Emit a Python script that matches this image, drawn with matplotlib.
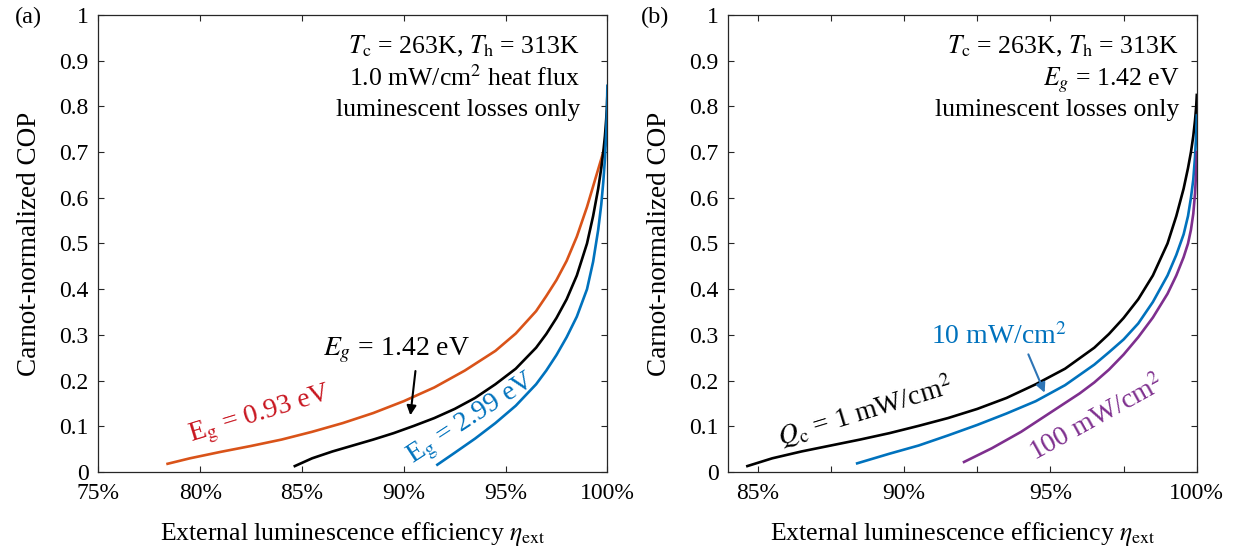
import matplotlib
matplotlib.use("Agg")
import matplotlib.pyplot as plt

plt.rcParams['font.family'] = 'serif'
plt.rcParams['font.serif'] = ['Liberation Serif']
plt.rcParams['mathtext.fontset'] = 'stix'

# ---- data (eta in %, Carnot-normalized COP) ----
# Eg = 1.42 eV, Qc = 1 mW/cm^2 (same curve in both panels)
eta_142 = [84.65, 85.5, 86.5, 87.5, 88.5, 89.5, 90.5, 91.5, 92.5, 93.5, 94.5, 95.5,
           96.5, 97.0, 97.5, 98.0, 98.5, 99.0, 99.3, 99.55, 99.7, 99.8, 99.88, 99.94, 99.98, 100.0]
cop_142 = [0.013, 0.030, 0.045, 0.058, 0.071, 0.085, 0.101, 0.118, 0.138, 0.162, 0.192, 0.226,
           0.272, 0.302, 0.337, 0.378, 0.43, 0.50, 0.56, 0.62, 0.665, 0.70, 0.735, 0.77, 0.80, 0.825]

# Eg = 0.93 eV
eta_093 = [78.4, 79.5, 81.0, 82.5, 84.0, 85.5, 87.0, 88.5, 90.0, 91.5, 93.0, 94.5,
           95.5, 96.5, 97.0, 97.5, 98.0, 98.5, 99.0, 99.4, 99.7, 99.9, 100.0]
cop_093 = [0.018, 0.030, 0.044, 0.057, 0.071, 0.088, 0.107, 0.129, 0.155, 0.185, 0.222, 0.265,
           0.303, 0.352, 0.385, 0.42, 0.462, 0.515, 0.58, 0.64, 0.685, 0.715, 0.73]

# Eg = 2.99 eV
eta_299 = [91.65, 92.5, 93.5, 94.5, 95.5, 96.5, 97.0, 97.5, 98.0, 98.5, 99.0, 99.3,
           99.55, 99.7, 99.8, 99.88, 99.94, 99.98, 100.0]
cop_299 = [0.016, 0.042, 0.073, 0.107, 0.145, 0.192, 0.222, 0.256, 0.295, 0.34, 0.40, 0.46,
           0.53, 0.585, 0.635, 0.685, 0.74, 0.79, 0.845]

# Qc = 10 mW/cm^2
eta_q10 = [88.4, 89.5, 90.5, 91.5, 92.5, 93.5, 94.5, 95.5, 96.5, 97.0, 97.5, 98.0,
           98.5, 99.0, 99.3, 99.55, 99.7, 99.8, 99.88, 99.94, 99.98, 100.0]
cop_q10 = [0.019, 0.040, 0.058, 0.080, 0.103, 0.128, 0.155, 0.19, 0.235, 0.262, 0.29, 0.325,
           0.372, 0.43, 0.475, 0.52, 0.56, 0.60, 0.64, 0.69, 0.74, 0.78]

# Qc = 100 mW/cm^2
eta_q100 = [92.05, 93.0, 94.0, 95.0, 96.0, 96.5, 97.0, 97.5, 98.0, 98.5, 99.0, 99.3,
            99.55, 99.7, 99.8, 99.88, 99.94, 99.98, 100.0]
cop_q100 = [0.022, 0.052, 0.088, 0.13, 0.172, 0.196, 0.224, 0.257, 0.295, 0.338, 0.39, 0.43,
            0.47, 0.50, 0.53, 0.565, 0.61, 0.66, 0.70]

yticks = [0, 0.1, 0.2, 0.3, 0.4, 0.5, 0.6, 0.7, 0.8, 0.9, 1]
ytick_labels = ['0', '0.1', '0.2', '0.3', '0.4', '0.5', '0.6', '0.7', '0.8', '0.9', '1']
xticks_a = [75, 80, 85, 90, 95, 100]
xtick_labels_a = ['75%', '80%', '85%', '90%', '95%', '100%']
xticks_b = [85, 87.5, 90, 92.5, 95, 97.5, 100]
xtick_labels_b = ['85%', '', '90%', '', '95%', '', '100%']

ORANGE = '#D95319'
BLUE = '#0072BD'
PURPLE = '#7E2F8E'
RED_TXT = '#C8141E'
LW = 1.9
TICK_FS = 17
XLABEL_FS = 18.5
YLABEL_FS = 19.5
INFO_FS = 18.5
CURVE_FS = 20

fig = plt.figure(figsize=(12.37, 5.52), dpi=100)
ax1 = fig.add_axes([0.0795, 0.1449, 0.4115, 0.828])
ax2 = fig.add_axes([0.5888, 0.1449, 0.3787, 0.828])


def style(ax, xlim, xt, xtl):
    ax.set_xlim(*xlim)
    ax.set_ylim(0, 1)
    ax.set_xticks(xt)
    ax.set_xticklabels(xtl)
    ax.set_yticks(yticks)
    ax.set_yticklabels(ytick_labels)
    ax.tick_params(direction='in', top=True, right=True, length=4, width=0.8,
                   labelsize=TICK_FS, colors='#262626', labelcolor='black')
    ax.tick_params(axis='x', pad=8)
    ax.tick_params(axis='y', pad=7)
    for s in ax.spines.values():
        s.set_color('#262626')
        s.set_linewidth(0.9)
    ax.set_ylabel('Carnot-normalized COP', fontsize=YLABEL_FS)
    ax.set_xlabel(r'External luminescence efficiency $\eta_\mathrm{ext}$', fontsize=XLABEL_FS)
    ax.xaxis.set_label_coords(0.5, -0.105)


# ---- panel (a) ----
ax1.plot(eta_093, cop_093, color=ORANGE, lw=LW)
ax1.plot(eta_142, cop_142, color='black', lw=LW)
ax1.plot(eta_299, cop_299, color=BLUE, lw=LW)
style(ax1, (75, 100), xticks_a, xtick_labels_a)
ax1.yaxis.set_label_coords(-0.11, 0.5)

ax1.text(98.66, 0.915, r'$T_\mathrm{c}$ = 263K, $T_\mathrm{h}$ = 313K', ha='right', va='baseline', fontsize=INFO_FS)
ax1.text(98.66, 0.845, r'1.0 mW/cm$^2$ heat flux', ha='right', va='baseline', fontsize=INFO_FS)
ax1.text(98.66, 0.779, 'luminescent losses only', ha='right', va='baseline', fontsize=INFO_FS)

ax1.text(82.93, 0.124, r'E$_\mathrm{g}$ = 0.93 eV', color=RED_TXT, fontsize=CURVE_FS,
         rotation=17, ha='center', va='center', rotation_mode='anchor')
ax1.text(93.34, 0.114, r'E$_\mathrm{g}$ = 2.99 eV', color=BLUE, fontsize=CURVE_FS,
         rotation=33, ha='center', va='center', rotation_mode='anchor')
ax1.text(89.66, 0.267, r'$E_g$ = 1.42 eV', color='black', fontsize=CURVE_FS,
         ha='center', va='center')
ax1.annotate('', xy=(90.31, 0.118), xytext=(90.59, 0.227),
             arrowprops=dict(arrowstyle='-|>', color='black', lw=1.5, mutation_scale=14))

# ---- panel (b) ----
ax2.plot(eta_142, cop_142, color='black', lw=LW)
ax2.plot(eta_q10, cop_q10, color=BLUE, lw=LW)
ax2.plot(eta_q100, cop_q100, color=PURPLE, lw=LW)
style(ax2, (84, 100), xticks_b, xtick_labels_b)
ax2.yaxis.set_label_coords(-0.12, 0.5)

ax2.text(99.4, 0.915, r'$T_\mathrm{c}$ = 263K, $T_\mathrm{h}$ = 313K', ha='right', va='baseline', fontsize=INFO_FS)
ax2.text(99.4, 0.845, r'$E_g$ = 1.42 eV', ha='right', va='baseline', fontsize=INFO_FS)
ax2.text(99.4, 0.779, 'luminescent losses only', ha='right', va='baseline', fontsize=INFO_FS)

ax2.text(88.68, 0.132, r'$Q_\mathrm{c}$ = 1 mW/cm$^2$', color='black', fontsize=CURVE_FS,
         rotation=17, ha='center', va='center', rotation_mode='anchor')
ax2.text(93.24, 0.296, r'10 mW/cm$^2$', color=BLUE, fontsize=CURVE_FS, ha='center', va='center')
ax2.annotate('', xy=(94.84, 0.168), xytext=(94.21, 0.263),
             arrowprops=dict(arrowstyle='-|>', color='#2E75B6', lw=1.5, mutation_scale=14))
ax2.text(96.6, 0.118, r'100 mW/cm$^2$', color=PURPLE, fontsize=CURVE_FS,
         rotation=29, ha='center', va='center', rotation_mode='anchor')

fig.text(28 / 1237, 1 - 17 / 552, '(a)', fontsize=17.5, ha='center', va='center')
fig.text(655 / 1237, 1 - 17 / 552, '(b)', fontsize=17.5, ha='center', va='center')

fig.savefig('out.png', dpi=100)
